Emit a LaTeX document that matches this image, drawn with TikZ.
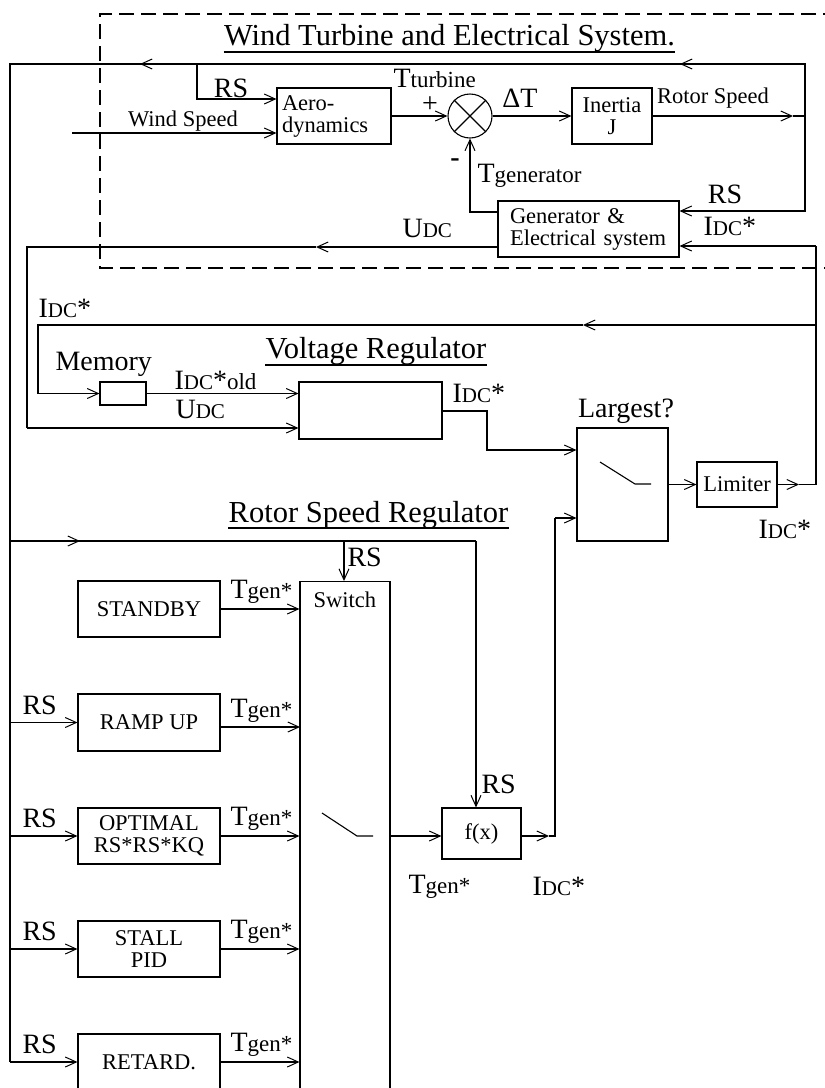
\documentclass[tikz,border=0pt]{standalone}
\usepackage{fontspec}
\setmainfont{Liberation Serif}
\usetikzlibrary{arrows.meta}
\newcommand\fsT{\fontsize{30.5}{32}\selectfont}
\newcommand\fsL{\fontsize{28}{30}\selectfont}
\newcommand\fsB{\fontsize{22.5}{22}\selectfont}
\newcommand\fsS{\fontsize{23}{25}\selectfont}
\newcommand\fsD{\fontsize{21}{22}\selectfont}
\newcommand\myI{I{\fsD DC}*}
\newcommand\myU{U{\fsD DC}}
\newcommand\myT[1]{T{\fsS #1}}
\begin{document}
\begin{tikzpicture}[x=1pt,y=-1pt,line width=1.1pt,
  >={Straight Barb[length=11pt,width=10pt,line width=1pt]},
  box/.style={draw,rectangle,inner sep=0pt,font=\fsB,align=center},
  lbl/.style={inner sep=0pt,anchor=base,font=\fsL},
  lblw/.style={inner sep=0pt,anchor=base west,font=\fsL},
  uline/.style={line width=1.3pt}]
\useasboundingbox (0,0) rectangle (825,1088);
\clip (0,0) rectangle (825,1088);
\fill[white] (0,0) rectangle (825,1088);

% ---------- dashed system border
\draw[dash pattern=on 15pt off 7pt] (860,14) -- (100,14) -- (100,268) -- (860,268);

% ---------- blocks
\node[box,minimum width=114pt,minimum height=56pt,text width=104pt,inner xsep=5pt,align=left] (aero) at (334,116) {Aero-\\dynamics};
\node[draw,circle,minimum size=44pt,inner sep=0pt] (sum) at (470,116) {};
\draw (sum.north west) -- (sum.south east) (sum.north east) -- (sum.south west);
\node[box,minimum width=80pt,minimum height=56pt] (inertia) at (612,116) {Inertia\\J};
\node[box,minimum width=181pt,minimum height=56pt,text width=157pt,inner xsep=12pt,align=left] (gen) at (588.5,229) {Generator \&\\Electrical system};
\node[box,minimum width=46pt,minimum height=23pt] (mem) at (123,393.5) {};
\node[box,minimum width=143pt,minimum height=57pt] (vr) at (370.5,410.5) {};
\node[box,minimum width=91pt,minimum height=113pt] (lg) at (622.5,484.5) {};
\draw (600,462) -- (635,484) -- (651,484);
\node[box,minimum width=80pt,minimum height=45pt] (lim) at (737,484.5) {Limiter};
\node[box,minimum width=142pt,minimum height=56pt] (stb) at (149,609) {STANDBY};
\node[box,minimum width=142pt,minimum height=57pt] (ramp) at (149,722.5) {RAMP UP};
\node[box,minimum width=142pt,minimum height=56pt] (opt) at (149,836) {OPTIMAL\\RS*RS*KQ};
\node[box,minimum width=142pt,minimum height=56pt] (stall) at (149,949) {STALL\\PID};
\node[box,minimum width=142pt,minimum height=56pt] (ret) at (149,1062) {RETARD.};
\node[draw,inner sep=0pt,minimum width=90pt,minimum height=540pt,anchor=north] (sw) at (345,581) {};
\draw (322,813) -- (357,836) -- (373,836);
\node[box,minimum width=79pt,minimum height=51pt] (fx) at (481.5,833.5) {f(x)};

% ---------- coordinates
\coordinate (rsR) at (805,116);
\coordinate (tr) at (805,64);
\coordinate (tl) at (10,64);
\coordinate (rs1) at (197,64);
\coordinate (g1) at (805,211);
\coordinate (w0) at (72,133);
\coordinate (u0) at (27,247);
\coordinate (u1) at (27,428);
\coordinate (f1) at (816,325);
\coordinate (f0) at (38,325);
\coordinate (f2) at (38,393.5);
\coordinate (lo) at (816,484.5);
\coordinate (lt) at (816,246);
\coordinate (v1) at (487,411);
\coordinate (v2) at (487,450);
\coordinate (r0) at (10,541);
\coordinate (r1) at (344,541);
\coordinate (r2) at (476,541);
\coordinate (j1) at (555,836);
\coordinate (j2) at (555,518);

% ---------- turbine loop
\draw[->] (inertia.east) -- (793,116);
\draw (793,116) -- (rsR);
\draw (rsR) -- (tr) -- (tl) -- (tl |- ret.west);
\draw[->] (tl |- ret.west) -- (ret.west);
\draw[->] (tr) -- (680,64);
\draw[->] (rs1) -- (140,64);
\draw[->] (rsR) -- (g1) -- (g1 -| gen.east);
\draw[->] (rs1) -- (197,99) -- (aero.west |- 0,99);
\draw[->] (w0) -- (aero.west |- w0);
\draw[->] (aero.east) -- (sum.west);
\draw[->] (sum.east) -- (inertia.west);
\draw[->] (gen.west |- 0,212) -- (470,212) -- (sum.south);

% ---------- U_DC and I_DC feedback
\draw[->] (gen.west |- u0) -- (316,247);
\draw (316,247) -- (u0) -- (u1);
\draw[->] (u1) -- (vr.west |- u1);
\draw[->] (lim.east) -- (799,484.5);
\draw (799,484.5) -- (lo) -- (lt);
\draw[->] (lt) -- (gen.east |- lt);
\draw[->] (f1) -- (583,325);
\draw (583,325) -- (f0) -- (f2);
\draw[->] (f2) -- (mem.west);
\draw[->] (mem.east) -- (mem.east -| vr.west);
\draw[->] (vr.east |- v1) -- (v1) -- (v2) -- (lg.west |- v2);
\draw[->] (lg.east |- lim.west) -- (lim.west);

% ---------- rotor speed regulator
\draw (r0) -- (r2);
\draw[->] (r0) -- (80,541);
\draw[->] (r1) -- (sw.north -| r1);
\draw[->] (r2) -- (r2 |- fx.north);
\draw[->] (tl |- ramp.west) -- (ramp.west);
\draw[->] (tl |- opt.west) -- (opt.west);
\draw[->] (tl |- stall.west) -- (stall.west);
\draw[->] (stb.east) -- (stb.east -| sw.west);
\draw[->] (220,727) -- (300,727);
\draw[->] (opt.east) -- (opt.east -| sw.west);
\draw[->] (stall.east) -- (stall.east -| sw.west);
\draw[->] (ret.east) -- (ret.east -| sw.west);
\draw[->] (sw.east |- j1) -- (fx.west |- j1);
\draw[->] (fx.east |- j1) -- (549,836);
\draw (549,836) -- (j1) -- (j2);
\draw[->] (j2) -- (lg.west |- j2);

% ---------- labels
\node[lbl,font=\fsT] (title1) at (449.5,45) {Wind Turbine and Electrical System.};
\draw[uline] (title1.west |- 0,52) -- (title1.east |- 0,52);
\node[lbl] (lrs1) at (231,97) {RS};
\node[lbl,font=\fsB] (lws) at (183,126) {Wind Speed};
\node[lblw] (ltt) at (393,87) {\myT{turbine}};
\node[lbl] (lplus) at (430,112) {+};
\node[lbl] (ldt) at (520,107) {ΔT};
\node[lbl,font=\fsB] (lrsp) at (713,103) {Rotor Speed};
\node[lbl,font=\bfseries\fsL] (lminus) at (455,166) {-};
\node[lblw] (ltg) at (477,182) {\myT{generator}};
\node[lbl] (lrs2) at (725,203) {RS};
\node[lblw] (li1) at (703,235) {\myI};
\node[lblw] (lu1) at (402,237) {\myU};
\node[lblw] (li2) at (38,317) {\myI};
\node[lblw] (lmem) at (55,370) {Memory};
\node[lblw] (li3) at (174,389) {\myI{\fsS old}};
\node[lblw] (lu2) at (175,418) {\myU};
\node[lbl,font=\fsT] (title2) at (376,358) {Voltage Regulator};
\draw[uline] (title2.west |- 0,365) -- (title2.east |- 0,365);
\node[lblw] (li4) at (452,402) {\myI};
\node[lbl] (llg) at (626,417) {Largest?};
\node[lblw] (li5) at (758,538) {\myI};
\node[lbl,font=\fsT] (title3) at (368.5,522) {Rotor Speed Regulator};
\draw[uline] (title3.west |- 0,528) -- (title3.east |- 0,528);
\node[lblw] (lrs3) at (347,566) {RS};
\node[lblw,font=\fsB] (lsw) at (313,607) {Switch};
\node[lblw] (ltg1) at (230,598) {\myT{gen*}};
\node[lblw] (ltg2) at (230,717) {\myT{gen*}};
\node[lblw] (ltg3) at (230,825) {\myT{gen*}};
\node[lblw] (ltg4) at (230,938) {\myT{gen*}};
\node[lblw] (ltg5) at (230,1051) {\myT{gen*}};
\node[lblw] (lrs4) at (22,714) {RS};
\node[lblw] (lrs5) at (22,827) {RS};
\node[lblw] (lrs6) at (22,940) {RS};
\node[lblw] (lrs7) at (22,1053) {RS};
\node[lblw] (lrs8) at (481,793) {RS};
\node[lblw] (ltg6) at (408,893) {\myT{gen*}};
\node[lblw] (li6) at (532,895) {\myI};
\end{tikzpicture}
\end{document}
